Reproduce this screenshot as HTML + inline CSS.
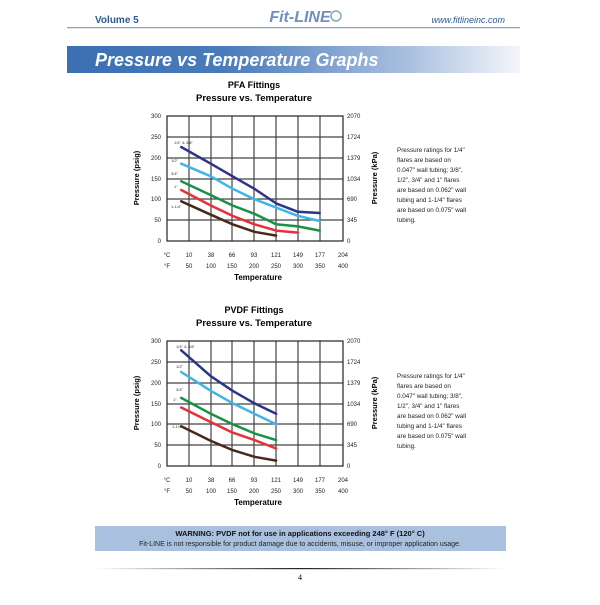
<!DOCTYPE html>
<html><head><style>
body{margin:0;width:600px;height:600px;background:#fff;overflow:hidden;font-family:"Liberation Sans",sans-serif}
</style></head><body>
<svg width="600" height="600" xmlns="http://www.w3.org/2000/svg" font-family="Liberation Sans, sans-serif">
<defs><linearGradient id="g" x1="0" x2="1"><stop offset="0" stop-color="#3b6fb3"/><stop offset="0.35" stop-color="#4a7cbc"/><stop offset="0.75" stop-color="#a9bfdf"/><stop offset="1" stop-color="#f4f6fb"/></linearGradient>
<linearGradient id="hl" x1="0" x2="1"><stop offset="0" stop-color="#fff"/><stop offset="0.5" stop-color="#222"/><stop offset="1" stop-color="#fff"/></linearGradient></defs>
<text x="95" y="23" font-size="10" font-weight="bold" fill="#2d5a8e">Volume 5</text>
<text x="300" y="22" font-size="16" font-weight="bold" font-style="italic" fill="#6f8fc0" text-anchor="middle">Fit-LINE</text>
<circle cx="336" cy="16" r="5" fill="none" stroke="#8aa" stroke-width="1.5"/>
<text x="505" y="23" font-size="9" font-style="italic" fill="#2d5a8e" text-anchor="end">www.fitlineinc.com</text>
<rect x="67" y="27" width="453" height="1.3" fill="#8ea6bf"/>
<rect x="67" y="46" width="453" height="27" fill="url(#g)"/>
<text x="95" y="66" font-size="18" font-weight="bold" font-style="italic" fill="#fff">Pressure vs Temperature Graphs</text>

<g id="c1">
<text x="254" y="88" font-size="9" font-weight="bold" text-anchor="middle">PFA Fittings</text>
<text x="254" y="101" font-size="9.5" font-weight="bold" text-anchor="middle">Pressure vs. Temperature</text>
<g stroke="#444" stroke-width="1.2">
<line x1="167" y1="137" x2="343" y2="137"/><line x1="167" y1="158" x2="343" y2="158"/><line x1="167" y1="179" x2="343" y2="179"/><line x1="167" y1="199" x2="343" y2="199"/><line x1="167" y1="220" x2="343" y2="220"/>
<line x1="189" y1="116" x2="189" y2="241"/><line x1="211" y1="116" x2="211" y2="241"/><line x1="232" y1="116" x2="232" y2="241"/><line x1="254" y1="116" x2="254" y2="241"/><line x1="276" y1="116" x2="276" y2="241"/><line x1="298" y1="116" x2="298" y2="241"/><line x1="320" y1="116" x2="320" y2="241"/>
</g>
<rect x="167" y="116" width="176" height="125" fill="none" stroke="#222" stroke-width="1.2"/>
<g font-size="6" fill="#222" text-anchor="end"><text x="161" y="118">300</text><text x="161" y="139">250</text><text x="161" y="160">200</text><text x="161" y="181">150</text><text x="161" y="201">100</text><text x="161" y="222">50</text><text x="161" y="243">0</text></g>
<g font-size="6" fill="#222"><text x="347" y="118">2070</text><text x="347" y="139">1724</text><text x="347" y="160">1379</text><text x="347" y="181">1034</text><text x="347" y="201">690</text><text x="347" y="222">345</text><text x="347" y="243">0</text></g>
<g font-size="6" fill="#222" text-anchor="middle"><text x="167" y="257">°C</text><text x="189" y="257">10</text><text x="211" y="257">38</text><text x="232" y="257">66</text><text x="254" y="257">93</text><text x="276" y="257">121</text><text x="298" y="257">149</text><text x="320" y="257">177</text><text x="343" y="257">204</text>
<text x="167" y="268">°F</text><text x="189" y="268">50</text><text x="211" y="268">100</text><text x="232" y="268">150</text><text x="254" y="268">200</text><text x="276" y="268">250</text><text x="298" y="268">300</text><text x="320" y="268">350</text><text x="343" y="268">400</text></g>
<text x="258" y="280" font-size="8" font-weight="bold" text-anchor="middle">Temperature</text>
<text transform="translate(139,178) rotate(-90)" font-size="7.5" font-weight="bold" text-anchor="middle">Pressure (psig)</text>
<text transform="translate(377,178) rotate(-90)" font-size="7.5" font-weight="bold" text-anchor="middle">Pressure (kPa)</text>
<g font-size="4" fill="#333"><text x="174" y="144">1/4" &amp; 3/8"</text><text x="171" y="162">1/2"</text><text x="171" y="175">3/4"</text><text x="174" y="188">1"</text><text x="171" y="208">1-1/4"</text></g>
<g fill="none" stroke-width="2.5" stroke-linejoin="round" stroke-linecap="round">
<polyline stroke="#2e3586" points="181.2,147 210.8,163.7 232.6,176.3 254.4,188.8 276.1,203.4 297.9,211.8 319.7,213"/>
<polyline stroke="#3fb6e6" points="181.2,163.7 210.8,176.3 232.6,188.8 254.4,199.2 276.1,207.6 297.9,215.9 319.7,221"/>
<polyline stroke="#1a9147" points="181.2,181.3 210.8,195.1 232.6,205.5 254.4,213.8 276.1,224.3 297.9,226.4 319.7,230.6"/>
<polyline stroke="#e53238" points="181.2,190 210.8,205.5 232.6,215.9 254.4,224.3 276.1,230.6 297.9,232.6"/>
<polyline stroke="#4a2a1a" points="181.2,201.3 210.8,214.7 232.6,224.3 254.4,231.8 276.1,235.6"/>
</g>
<g font-size="6.3" fill="#222"><text x="397" y="152">Pressure ratings for 1/4"</text><text x="397" y="162">flares are based on</text><text x="397" y="172">0.047" wall tubing; 3/8",</text><text x="397" y="182">1/2", 3/4" and 1" flares</text><text x="397" y="192">are based on 0.062" wall</text><text x="397" y="202">tubing and 1-1/4" flares</text><text x="397" y="212">are based on 0.075" wall</text><text x="397" y="222">tubing.</text></g>
</g>

<g>
<text x="254" y="313" font-size="9" font-weight="bold" text-anchor="middle">PVDF Fittings</text>
<text x="254" y="326" font-size="9.5" font-weight="bold" text-anchor="middle">Pressure vs. Temperature</text>
<g stroke="#444" stroke-width="1.2">
<line x1="167" y1="362" x2="343" y2="362"/><line x1="167" y1="383" x2="343" y2="383"/><line x1="167" y1="404" x2="343" y2="404"/><line x1="167" y1="424" x2="343" y2="424"/><line x1="167" y1="445" x2="343" y2="445"/>
<line x1="189" y1="341" x2="189" y2="466"/><line x1="211" y1="341" x2="211" y2="466"/><line x1="232" y1="341" x2="232" y2="466"/><line x1="254" y1="341" x2="254" y2="466"/><line x1="276" y1="341" x2="276" y2="466"/><line x1="298" y1="341" x2="298" y2="466"/><line x1="320" y1="341" x2="320" y2="466"/>
</g>
<rect x="167" y="341" width="176" height="125" fill="none" stroke="#222" stroke-width="1.2"/>
<g font-size="6" fill="#222" text-anchor="end"><text x="161" y="343">300</text><text x="161" y="364">250</text><text x="161" y="385">200</text><text x="161" y="406">150</text><text x="161" y="426">100</text><text x="161" y="447">50</text><text x="161" y="468">0</text></g>
<g font-size="6" fill="#222"><text x="347" y="343">2070</text><text x="347" y="364">1724</text><text x="347" y="385">1379</text><text x="347" y="406">1034</text><text x="347" y="426">690</text><text x="347" y="447">345</text><text x="347" y="468">0</text></g>
<g font-size="6" fill="#222" text-anchor="middle"><text x="167" y="482">°C</text><text x="189" y="482">10</text><text x="211" y="482">38</text><text x="232" y="482">66</text><text x="254" y="482">93</text><text x="276" y="482">121</text><text x="298" y="482">149</text><text x="320" y="482">177</text><text x="343" y="482">204</text>
<text x="167" y="493">°F</text><text x="189" y="493">50</text><text x="211" y="493">100</text><text x="232" y="493">150</text><text x="254" y="493">200</text><text x="276" y="493">250</text><text x="298" y="493">300</text><text x="320" y="493">350</text><text x="343" y="493">400</text></g>
<text x="258" y="505" font-size="8" font-weight="bold" text-anchor="middle">Temperature</text>
<text transform="translate(139,403) rotate(-90)" font-size="7.5" font-weight="bold" text-anchor="middle">Pressure (psig)</text>
<text transform="translate(377,403) rotate(-90)" font-size="7.5" font-weight="bold" text-anchor="middle">Pressure (kPa)</text>
<g font-size="4" fill="#333"><text x="176" y="348">1/4" &amp; 3/8"</text><text x="176" y="368">1/2"</text><text x="176" y="391">3/4"</text><text x="173" y="401">1"</text><text x="172" y="428">1-1/4"</text></g>
<g fill="none" stroke-width="2.5" stroke-linejoin="round" stroke-linecap="round">
<polyline stroke="#2e3586" points="181.2,350.3 210.8,376.2 232.6,390.8 254.4,403.3 276.1,413.8"/>
<polyline stroke="#3fb6e6" points="181.2,372 210.8,390.8 232.6,403.3 254.4,413.8 276.1,424.2"/>
<polyline stroke="#1a9147" points="181.2,397.9 210.8,413.8 232.6,424.2 254.4,433.4 276.1,440.1"/>
<polyline stroke="#e53238" points="181.2,407.5 210.8,422.1 232.6,432.6 254.4,440.1 276.1,448.5"/>
<polyline stroke="#4a2a1a" points="181.2,426.3 210.8,440.9 232.6,450.1 254.4,456.8 276.1,460.6"/>
</g>
<g font-size="6.3" fill="#222"><text x="397" y="378">Pressure ratings for 1/4"</text><text x="397" y="388">flares are based on</text><text x="397" y="398">0.047" wall tubing; 3/8",</text><text x="397" y="408">1/2", 3/4" and 1" flares</text><text x="397" y="418">are based on 0.062" wall</text><text x="397" y="428">tubing and 1-1/4" flares</text><text x="397" y="438">are based on 0.075" wall</text><text x="397" y="448">tubing.</text></g>
</g>

<rect x="95" y="526" width="411" height="25" fill="#a9c1de"/>
<text x="300" y="536" font-size="7.5" font-weight="bold" text-anchor="middle" fill="#111">WARNING: PVDF not for use in applications exceeding 248° F (120° C)</text>
<text x="300" y="546" font-size="7" text-anchor="middle" fill="#222">Fit-LINE is not responsible for product damage due to accidents, misuse, or improper application usage.</text>
<rect x="95" y="568" width="411" height="1.2" fill="url(#hl)"/>
<text x="300" y="580" font-size="8" text-anchor="middle" font-family="Liberation Serif, serif">4</text>
</svg>
</body></html>
